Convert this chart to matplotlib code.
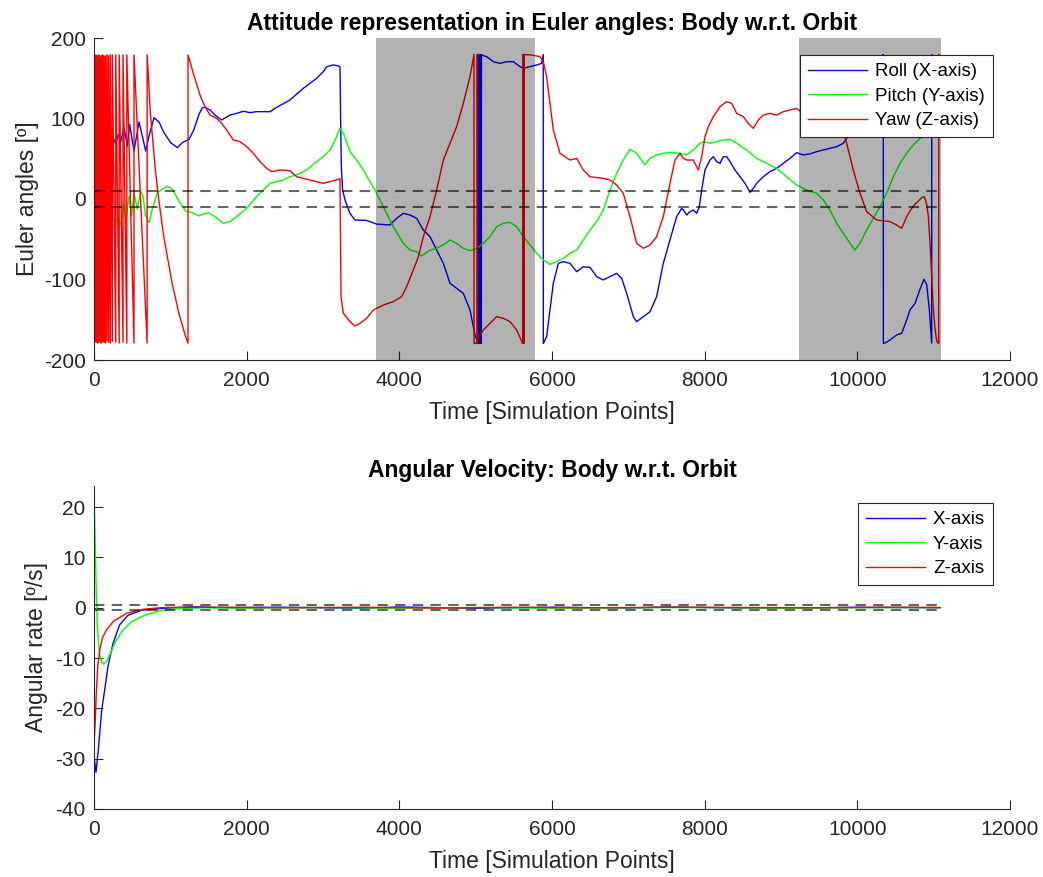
import numpy as np
import matplotlib
matplotlib.use('Agg')
import matplotlib.pyplot as plt

plt.rcParams['font.family'] = ['Liberation Sans', 'DejaVu Sans']
plt.rcParams['axes.unicode_minus'] = False

# ---- Euler angles (deg) ----
roll_t = [214, 262, 284, 319, 349, 393, 437, 467, 524, 590, 633, 677, 721, 786, 852, 917,
          1004, 1092, 1157, 1245, 1310, 1376, 1419, 1454, 1520, 1585, 1672, 1782, 1869, 1956,
          2044, 2131, 2306, 2393, 2567, 2742, 2917, 3004, 3048, 3135, 3201, 3223, 3231, 3240,
          3257, 3288, 3353, 3419, 3572, 3703, 3877, 3965, 4052, 4140, 4227, 4314, 4402, 4489,
          4576, 4664, 4751, 4838, 4926, 4991, 5030, 5031, 5040, 5041, 5055, 5056, 5065, 5066,
          5075, 5076, 5100, 5144, 5231, 5319, 5406, 5493, 5581, 5624, 5712, 5799, 5864, 5885,
          5886, 5930, 5974, 6017, 6083, 6148, 6236, 6323, 6410, 6498, 6585, 6672, 6760, 6847,
          6913, 6978, 7066, 7109, 7197, 7284, 7371, 7458, 7546, 7633, 7699, 7720, 7764, 7808,
          7851, 7895, 7930, 7961, 8004, 8070, 8114, 8157, 8201, 8244, 8288, 8332, 8397, 8463,
          8528, 8594, 8637, 8681, 8768, 8856, 8943, 9030, 9118, 9205, 9292, 9380, 9467, 9555,
          9642, 9729, 9816, 9860, 9950, 10050, 10150, 10250, 10330, 10340, 10341, 10361, 10428,
          10515, 10581, 10646, 10690, 10756, 10821, 10873, 10908, 10943, 10974, 10975, 11000, 11083]
roll_v = [70.6, 74.1, 67.9, 80.3, 70.6, 88.6, 65.8, 92.8, 59.6, 95.6, 78.3, 59.6, 78.3, 101,
          95.6, 82.4, 70, 63.8, 70, 74.1, 86.5, 105.2, 113.4, 113.9, 110.6, 104.3, 98.1, 104.3,
          106.4, 109, 107.3, 108.5, 108.5, 113.9, 123, 137.5, 149.9, 158.2, 164.4, 166.5, 165.4,
          164, 100, 40, 11, -1, -17.8, -26.1, -26.6, -31.2, -32.3, -24, -17.8, -19.9, -24, -38.5,
          -46.8, -63.4, -79.9, -104.7, -111, -117.2, -137.9, -168.9, -179.5, 179.5, 178, -179.5,
          -179, 179.5, 179, -179.5, -179, 179.5, 178, 176.8, 170.6, 168.5, 170.6, 170.6, 164.4,
          162.3, 164.4, 166.5, 168.5, 179.5, -179.5, -171, -137.9, -104.7, -79.9, -77.8, -79.9,
          -90.3, -84.1, -84.9, -96.5, -100.6, -96.5, -92.3, -98.5, -117.2, -146.2, -152.4,
          -146.2, -140, -121.3, -79.9, -50.9, -21.9, -11.6, -13.7, -19.9, -15.7, -13.7, -17.8,
          -9.5, 11.2, 36, 48.4, 52.6, 46.4, 44.3, 52.6, 52.6, 46.4, 36, 27.7, 19.5, 8.3, 13.2,
          19.5, 27.7, 34, 38.1, 44.3, 50.5, 57.6, 54.7, 56.1, 58.8, 60.9, 62.9, 65, 69.2, 75.4,
          85, 110, 135, 160, 178, 179.5, -179.5, -179, -175.1, -168.9, -166.9, -150.3, -137.9,
          -129.6, -112.2, -99.8, -106, -137, -179, 179.5, 176, 172]

pitch_t = [262, 306, 349, 393, 415, 459, 494, 524, 568, 612, 642, 677, 721, 764, 830, 895, 961,
           1026, 1113, 1201, 1288, 1376, 1419, 1498, 1585, 1694, 1782, 1869, 2000, 2131, 2306,
           2393, 2480, 2567, 2655, 2786, 2917, 3004, 3092, 3179, 3223, 3267, 3354, 3441, 3528,
           3681, 3790, 3921, 4052, 4140, 4227, 4292, 4402, 4489, 4576, 4664, 4751, 4838, 4926,
           5013, 5100, 5188, 5275, 5362, 5450, 5537, 5624, 5712, 5799, 5886, 5974, 6061, 6148,
           6236, 6323, 6410, 6498, 6585, 6672, 6760, 6847, 6934, 7022, 7109, 7218, 7284, 7371,
           7458, 7546, 7677, 7764, 7851, 7939, 7982, 8070, 8157, 8244, 8332, 8419, 8550, 8681,
           8812, 8943, 9074, 9205, 9336, 9467, 9555, 9642, 9729, 9816, 9904, 9969, 10035, 10122,
           10209, 10297, 10384, 10472, 10559, 10646, 10734, 10821, 10909, 10974, 11083]
pitch_v = [-33.5, -23.2, -31.5, -6.6, -29.4, 3.7, -21.1, 7.9, -12.8, 9.9, 3.7, -21.1, -29.4,
           -12.8, 7.9, 12, 16.1, 12, -2.5, -14.9, -17, -21.1, -19, -17, -21.9, -30.2, -28.1,
           -21.9, -11.6, 2.9, 19.5, 21.5, 23.6, 27.7, 29.8, 36, 46.4, 52.6, 60.9, 77.4, 87.8,
           81.6, 58.8, 48.4, 36, 11.2, -9.5, -34.4, -55, -63.4, -65.4, -70.8, -63.4, -61.3,
           -57.1, -50.9, -55, -61.3, -64.2, -61.3, -55, -46.8, -34.4, -30.2, -29, -34.4, -46.8,
           -57.1, -67.5, -75.8, -81.2, -77.8, -73.7, -67.5, -63.4, -50.9, -38.5, -28.1, -13.7,
           11.2, 31.9, 48.4, 61.7, 56.8, 42.2, 50.5, 54.7, 56.8, 57.6, 56.8, 54.7, 60.9, 69.2,
           71.2, 69.2, 71.2, 73.3, 74.1, 69.2, 60.9, 50.5, 44.3, 38.1, 27.7, 17.4, 11.2, 7.1,
           -1.2, -13.7, -30.2, -42.6, -55, -63.4, -55, -38.5, -24, -9.5, 7.1, 27.7, 44.3, 56.8,
           67.1, 75.4, 78, 80, 82]

yaw_t = [0, 12, 12, 25, 25, 38, 38, 52, 52, 66, 66, 81, 81, 97, 97, 114, 114, 132, 132, 151,
         151, 171, 171, 192, 192, 214, 214, 240, 240, 285, 285, 330, 330, 380, 380, 430, 430,
         524, 524, 696, 696, 738, 803, 847, 913, 1022, 1109, 1197, 1232, 1232, 1301, 1389, 1454,
         1520, 1607, 1672, 1738, 1825, 1913, 2000, 2087, 2175, 2262, 2328, 2437, 2567, 2655,
         2742, 2829, 2917, 3004, 3092, 3201, 3223, 3236, 3267, 3354, 3419, 3485, 3572, 3659,
         3790, 3921, 4030, 4096, 4183, 4249, 4314, 4402, 4489, 4576, 4664, 4751, 4838, 4926,
         4978, 4979, 5020, 5021, 5023, 5035, 5100, 5188, 5275, 5362, 5450, 5537, 5616, 5617,
         5630, 5631, 5633, 5734, 5843, 5887, 5930, 5974, 6017, 6105, 6236, 6323, 6410, 6498,
         6672, 6760, 6847, 6934, 7022, 7109, 7197, 7284, 7371, 7458, 7546, 7611, 7677, 7720,
         7764, 7851, 7917, 7961, 8004, 8048, 8114, 8201, 8288, 8354, 8419, 8506, 8572, 8637,
         8703, 8768, 8856, 8943, 9030, 9118, 9205, 9292, 9400, 9600, 9750, 9838, 9860, 9947,
         10035, 10122, 10253, 10428, 10515, 10581, 10646, 10690, 10734, 10799, 10843, 10873,
         10900, 10930, 10952, 10974, 10996, 11018, 11040, 11053, 11066, 11067, 11080]
yaw_v = [160, -178, 178, -176, 179, -178, 177, -179, 178, -176, 179, -178, 176, -179, 178, -177,
         179, -178, 177, -179, 178, -176, 179, -178, 178, -179, 179, -177, 179, -178, 179, -179,
         179, -178, 179, -179, 179, -179, 179, -179, 179, 107, 37, 0, -46, -104, -141, -170,
         -179, 179, 156.1, 129.2, 114.7, 104.3, 100.2, 94, 85.7, 73.3, 71.2, 65, 56.8, 46.4,
         38.1, 34, 36, 35.2, 27.7, 25.6, 23.6, 21.5, 19.5, 21.5, 24.4, 25.2, -121.3, -142,
         -152.4, -157.8, -154.4, -148.2, -137.9, -131.7, -127.5, -121.3, -108.9, -88.2, -71.6,
         -46.8, -21.9, 11.2, 48.4, 69.2, 89.9, 118.8, 152, 179.5, -179.5, -179, 179.5, -179.5,
         -171, -162.7, -154.4, -146.2, -148.2, -152.4, -162.7, -179.5, 179.5, 178, -179.5,
         179.5, 178.9, 176.8, 170.6, 152, 118.8, 85.7, 56.8, 48.4, 50.5, 36, 27.7, 25.6, 23.6,
         17.4, 7.1, -21.9, -55, -61.3, -57.1, -46.8, -21.9, 19.5, 48.4, 56.8, 50.5, 48.4, 48.4,
         36, 52.6, 77.4, 89.9, 102.3, 114.7, 120.9, 118.8, 106.4, 102.3, 94, 87.8, 98.1, 104.3,
         106.4, 104.3, 108.5, 110.6, 112.6, 106, 108, 104, 95, 77.4, 69.2, 36, 7.1, -15.7,
         -26.1, -28.1, -32.3, -36.4, -22, -14.9, -8.7, -2.5, 1.7, 2.9, -2.5, -21.1, -54.2,
         -95.6, -137.1, -161.9, -176.4, -178.5, -179.5, 179.5, 178]

# ---- angular rates (deg/s) ----
wx_t = [0, 13, 26, 57, 101, 140, 183, 249, 336, 445, 620, 900, 1300, 1600, 2500, 3500, 4000,
        5000, 6000, 7000, 7500, 8000, 9000, 10000, 11083]
wx_v = [-29.5, -31, -32.7, -28.2, -20.3, -16.3, -11.7, -7.1, -3.4, -1.5, -0.5, -0.1, 0.2, 0.05,
        0.1, -0.1, 0.15, -0.1, 0.1, -0.05, 0.15, 0.05, -0.1, 0.1, 0.0]
wy_t = [0, 15, 30, 45, 70, 100, 125, 160, 205, 271, 358, 489, 664, 882, 1144, 1450, 2000, 3000,
        4000, 5000, 6000, 7000, 8000, 9000, 10000, 11083]
wy_v = [24, 13, 3, -4, -9, -10.8, -11.2, -10.8, -9.4, -7.1, -4.8, -2.8, -1.5, -0.5, -0.15, 0,
        -0.1, 0.05, -0.1, 0.05, -0.1, 0.0, 0.05, -0.1, 0.0, 0.05]
wz_t = [0, 15, 30, 50, 80, 110, 160, 253, 428, 646, 900, 1500, 2500, 3500, 4500, 5500, 6500,
        7500, 8500, 9500, 10500, 11083]
wz_v = [-27, -23, -17, -11.5, -8, -6, -4.5, -2.7, -1.1, -0.3, 0.05, 0.1, 0.0, 0.1, -0.05, 0.1,
        0.0, 0.1, 0.05, 0.0, 0.1, 0.05]

t_end = 11083
eclipses = [(3694, 5778), (9240, 11090)]
angle_band = 10
rate_band = 0.5

dark = (0.15, 0.15, 0.15)
fig = plt.figure(figsize=(10.43, 8.77), dpi=100)
ax1 = fig.add_axes([94 / 1043, 1 - 360 / 877, 916 / 1043, 322 / 877])
ax2 = fig.add_axes([94 / 1043, 1 - 809 / 877, 916 / 1043, 323 / 877])

for ax in (ax1, ax2):
    for s in ('top', 'right'):
        ax.spines[s].set_visible(False)
    for s in ('left', 'bottom'):
        ax.spines[s].set_color(dark)
        ax.spines[s].set_linewidth(0.8)
    ax.tick_params(direction='in', length=6.5, width=0.8, color=dark,
                   labelcolor=dark, labelsize=15)
    ax.tick_params(axis='x', pad=8)
    ax.tick_params(axis='y', pad=6)
    ax.set_xlim(0, 12000)
    ax.set_xticks(np.arange(0, 12001, 2000))
    ax.set_xlabel('Time [Simulation Points]', fontsize=16.5, color=dark)
    ax.xaxis.set_label_coords(0.5, -0.128)

dash = (0, (5, 3.5))

# top: Euler angles
ax1.plot(roll_t, roll_v, color='#0000ff', lw=1.0, label='Roll (X-axis)')
ax1.plot(pitch_t, pitch_v, color='#00ff00', lw=1.0, label='Pitch (Y-axis)')
ax1.plot(yaw_t, yaw_v, color='#ff0000', lw=1.0, label='Yaw (Z-axis)')
for lvl in (angle_band, -angle_band):
    ax1.plot([0, t_end], [lvl, lvl], color='k', alpha=0.6, lw=1.5, ls=dash)
for a, b in eclipses:
    ax1.axvspan(a, b, color='k', alpha=0.3, lw=0, zorder=3)
ax1.set_ylim(-200, 200)
ax1.set_yticks([-200, -100, 0, 100, 200])
ax1.set_ylabel('Euler angles [º]', fontsize=16.5, color=dark)
ax1.yaxis.set_label_coords(-0.060, 0.5)
ax1.set_title('Attitude representation in Euler angles: Body w.r.t. Orbit',
              fontsize=16.5, fontweight='bold', y=1.026, pad=0)

# bottom: angular rates
ax2.plot(wx_t, wx_v, color='#0000ff', lw=1.0, label='X-axis')
ax2.plot(wy_t, wy_v, color='#00ff00', lw=1.0, label='Y-axis')
ax2.plot(wz_t, wz_v, color='#ff0000', lw=1.0, label='Z-axis')
for lvl in (rate_band, -rate_band):
    ax2.plot([0, t_end], [lvl, lvl], color='k', alpha=0.6, lw=1.5, ls=dash)
ax2.set_ylim(-40, 24.2)
ax2.set_yticks(np.arange(-40, 21, 10))
ax2.set_ylabel('Angular rate [º/s]', fontsize=16.5, color=dark)
ax2.yaxis.set_label_coords(-0.050, 0.5)
ax2.set_title('Angular Velocity: Body w.r.t. Orbit',
              fontsize=16.5, fontweight='bold', y=1.028, pad=0)

for ax in (ax1, ax2):
    leg = ax.legend(loc='upper right', bbox_to_anchor=(0.9815, 0.947), borderaxespad=0,
                    fontsize=13.5, handlelength=3.15, handletextpad=0.45, labelspacing=0.4,
                    borderpad=0.42, fancybox=False, framealpha=1, edgecolor=dark)
    leg.get_frame().set_linewidth(0.8)
    leg.set_zorder(5)

fig.savefig('out.png', dpi=100)
